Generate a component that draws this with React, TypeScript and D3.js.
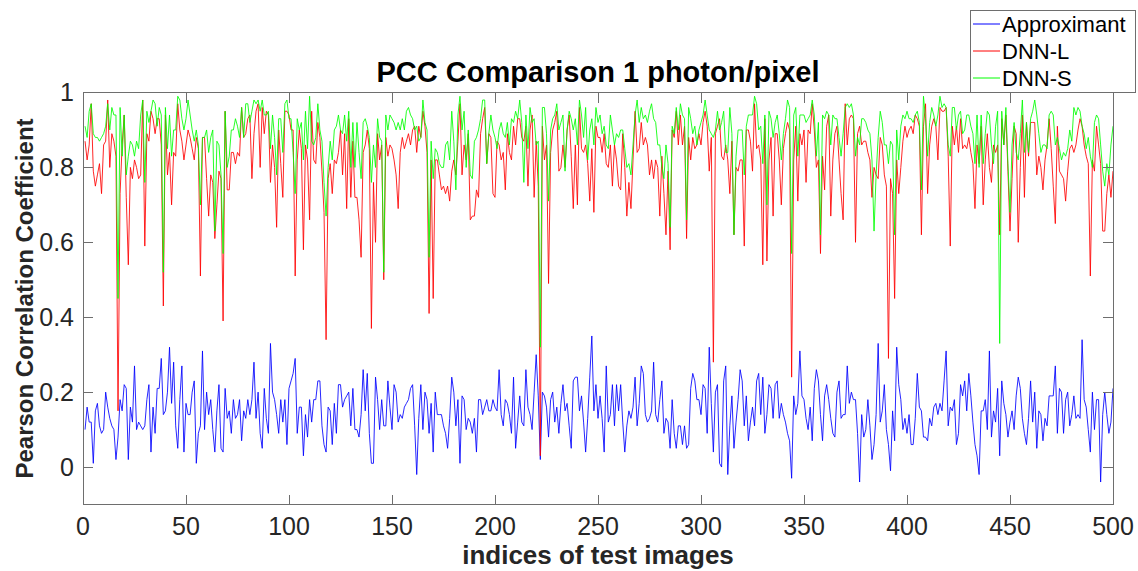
import React from "react";
import * as d3 from "d3";

const title = "PCC Comparison 1 photon/pixel";
const xLabel = "indices of test images";
const yLabel = "Pearson Correlation Coefficient";
const seriesNames = ["Approximant", "DNN-L", "DNN-S"];
const seriesColors = ["#0000ff", "#ff0000", "#00ff00"];
const xTicks = [0, 50, 100, 150, 200, 250, 300, 350, 400, 450, 500];
const yTicks = [0, 0.2, 0.4, 0.6, 0.8, 1];
const yTickLabels = ["0", "0.2", "0.4", "0.6", "0.8", "1"];

// Approximant (blue), test images 1..500
const approximant = [
  0.10, 0.16, 0.12, 0.12, 0.01, 0.15, 0.17, 0.11, 0.09, 0.10,
  0.20, 0.16, 0.13, 0.11, 0.10, 0.02, 0.08, 0.18, 0.15, 0.22,
  0.21, 0.02, 0.16, 0.12, 0.27, 0.10, 0.12, 0.11, 0.10, 0.11,
  0.18, 0.22, 0.04, 0.16, 0.09, 0.21, 0.21, 0.29, 0.14, 0.15,
  0.20, 0.32, 0.17, 0.28, 0.11, 0.05, 0.18, 0.27, 0.04, 0.17,
  0.14, 0.14, 0.20, 0.23, 0.01, 0.09, 0.11, 0.31, 0.10, 0.20,
  0.14, 0.18, 0.10, 0.04, 0.15, 0.22, 0.05, 0.04, 0.21, 0.13,
  0.15, 0.09, 0.18, 0.13, 0.14, 0.18, 0.07, 0.15, 0.13, 0.18,
  0.14, 0.18, 0.28, 0.13, 0.20, 0.09, 0.05, 0.21, 0.13, 0.09,
  0.33, 0.20, 0.18, 0.14, 0.09, 0.18, 0.12, 0.18, 0.06, 0.21,
  0.23, 0.25, 0.29, 0.09, 0.16, 0.16, 0.03, 0.14, 0.08, 0.18,
  0.12, 0.18, 0.18, 0.23, 0.23, 0.11, 0.06, 0.04, 0.16, 0.15,
  0.06, 0.17, 0.09, 0.22, 0.22, 0.16, 0.18, 0.19, 0.20, 0.11,
  0.21, 0.10, 0.10, 0.08, 0.14, 0.26, 0.15, 0.25, 0.09, 0.01,
  0.01, 0.24, 0.18, 0.10, 0.18, 0.11, 0.11, 0.23, 0.16, 0.10,
  0.22, 0.20, 0.12, 0.14, 0.13, 0.16, 0.17, 0.18, 0.21, 0.22,
  0.11, -0.02, 0.13, 0.22, 0.10, 0.20, 0.18, 0.09, 0.17, 0.04,
  0.20, 0.14, 0.14, 0.14, 0.11, 0.09, 0.05, 0.13, 0.24, 0.20,
  0.11, 0.18, 0.01, 0.19, 0.18, 0.10, 0.13, 0.12, 0.09, 0.13,
  0.04, 0.18, 0.18, 0.14, 0.16, 0.18, 0.15, 0.15, 0.18, 0.16,
  0.15, 0.26, 0.14, 0.11, 0.18, 0.17, 0.14, 0.09, 0.24, 0.05,
  0.12, 0.19, 0.12, 0.11, 0.26, 0.16, 0.14, 0.10, 0.20, 0.30,
  0.19, 0.02, 0.20, 0.19, 0.16, 0.08, 0.18, 0.20, 0.12, 0.16,
  0.09, 0.17, 0.22, 0.15, 0.17, 0.11, 0.05, 0.23, 0.24, 0.24,
  0.15, 0.19, 0.12, 0.04, 0.13, 0.24, 0.35, 0.15, 0.22, 0.13,
  0.19, 0.13, 0.04, 0.27, 0.12, 0.14, 0.22, 0.11, 0.22, 0.15,
  0.22, 0.12, 0.04, 0.11, 0.15, 0.13, 0.16, 0.24, 0.11, 0.17,
  0.27, 0.25, 0.14, 0.12, 0.13, 0.15, 0.28, 0.14, 0.12, 0.18,
  0.23, 0.09, 0.13, 0.12, 0.05, 0.18, 0.09, 0.05, 0.11, 0.11,
  0.06, 0.11, 0.05, 0.06, 0.21, 0.25, 0.23, 0.18, 0.18, 0.14,
  0.22, 0.21, 0.09, 0.32, 0.17, 0.04, 0.20, 0.22, 0.01, 0.00,
  0.23, 0.27, -0.02, 0.11, 0.19, 0.05, 0.12, 0.18, 0.26, 0.23,
  0.11, 0.19, 0.07, 0.12, 0.16, 0.11, 0.23, 0.25, 0.14, 0.24,
  0.09, 0.14, 0.22, 0.21, 0.13, 0.22, 0.23, 0.13, 0.17, 0.14,
  0.12, 0.09, 0.07, -0.03, 0.19, 0.14, 0.17, 0.31, 0.19, 0.18,
  0.13, 0.10, 0.16, 0.07, 0.21, 0.26, 0.23, 0.14, 0.07, 0.19,
  0.22, 0.18, 0.13, 0.09, 0.08, 0.20, 0.23, 0.13, 0.14, 0.14,
  0.27, 0.17, 0.20, 0.18, 0.18, 0.09, -0.04, 0.14, 0.08, 0.10,
  0.18, 0.11, 0.02, 0.06, 0.14, 0.33, 0.12, 0.15, 0.22, 0.10,
  0.06, -0.01, 0.15, 0.07, 0.32, 0.22, 0.18, 0.10, 0.13, 0.09,
  0.14, 0.06, 0.06, 0.13, 0.25, 0.16, 0.15, 0.08, 0.08, 0.07,
  0.13, 0.11, 0.16, 0.17, 0.14, 0.17, 0.15, 0.23, 0.31, 0.11,
  0.16, 0.15, 0.18, 0.06, 0.09, 0.22, 0.19, 0.23, 0.15, 0.25,
  0.19, 0.12, 0.06, 0.03, -0.02, 0.15, 0.15, 0.18, 0.10, 0.31,
  0.08, 0.15, 0.12, 0.21, 0.03, 0.23, 0.17, 0.14, 0.08, 0.12,
  0.15, 0.10, 0.19, 0.24, 0.21, 0.13, 0.09, 0.06, 0.13, 0.23,
  0.12, 0.20, 0.05, 0.15, 0.14, 0.07, 0.13, 0.11, 0.19, 0.19,
  0.19, 0.27, 0.09, 0.21, 0.20, 0.09, 0.18, 0.20, 0.11, 0.14,
  0.19, 0.13, 0.14, 0.13, 0.34, 0.18, 0.16, 0.10, 0.04, 0.20,
  0.10, 0.18, 0.18, -0.04, 0.14, 0.20, 0.14, 0.09, 0.12, 0.21,
];

// DNN-L (red)
const dnnL = [
  0.87, 0.82, 0.86, 0.97, 0.79, 0.75, 0.78, 0.81, 0.73, 0.86,
  0.87, 0.98, 0.80, 0.89, 0.87, 0.83, 0.15, 0.73, 0.86, 0.94,
  0.72, 0.54, 0.80, 0.77, 0.82, 0.80, 0.77, 0.78, 0.98, 0.59,
  0.89, 0.87, 0.95, 0.93, 0.89, 0.93, 0.93, 0.86, 0.43, 0.94,
  0.78, 0.84, 0.70, 0.84, 0.83, 0.97, 0.90, 0.87, 0.82, 0.86,
  0.90, 0.88, 0.85, 0.82, 0.88, 0.85, 0.51, 0.88, 0.88, 0.77,
  0.67, 0.78, 0.76, 0.61, 0.70, 0.79, 0.77, 0.39, 0.95, 0.74,
  0.74, 0.84, 0.84, 0.81, 0.84, 0.83, 0.96, 0.88, 0.89, 0.93,
  0.94, 0.77, 0.89, 0.95, 0.97, 0.80, 0.96, 0.89, 0.95, 0.94,
  0.76, 0.86, 0.80, 0.64, 0.90, 0.81, 0.72, 0.95, 0.95, 0.94,
  0.90, 0.90, 0.51, 0.82, 0.90, 0.85, 0.58, 0.86, 0.82, 0.66,
  0.95, 0.82, 0.81, 0.92, 0.88, 0.79, 0.68, 0.34, 0.77, 0.81,
  0.73, 0.82, 0.81, 0.84, 0.90, 0.78, 0.89, 0.69, 0.93, 0.72,
  0.87, 0.72, 0.72, 0.66, 0.56, 0.84, 0.86, 0.90, 0.85, 0.37,
  0.76, 0.60, 0.89, 0.82, 0.86, 0.50, 0.88, 0.83, 0.86, 0.85,
  0.82, 0.78, 0.69, 0.84, 0.88, 0.85, 0.87, 0.89, 0.86, 0.90,
  0.91, 0.84, 0.91, 0.88, 0.95, 0.91, 0.84, 0.41, 0.82, 0.45,
  0.82, 0.82, 0.78, 0.74, 0.75, 0.73, 0.75, 0.71, 0.79, 0.82,
  0.78, 0.87, 0.97, 0.78, 0.86, 0.82, 0.89, 0.66, 0.67, 0.67,
  0.74, 0.72, 0.89, 0.93, 0.96, 0.81, 0.89, 0.88, 0.73, 0.72,
  0.87, 0.86, 0.82, 0.84, 0.74, 0.89, 0.84, 0.82, 0.91, 0.86,
  0.93, 0.93, 0.88, 0.87, 0.91, 0.75, 0.90, 0.94, 0.72, 0.87,
  0.75, 0.03, 0.91, 0.82, 0.86, 0.49, 0.84, 0.90, 0.92, 0.95,
  0.79, 0.80, 0.86, 0.80, 0.90, 0.94, 0.83, 0.69, 0.86, 0.70,
  0.96, 0.85, 0.84, 0.86, 0.81, 0.71, 0.85, 0.68, 0.91, 0.88,
  0.88, 0.84, 0.89, 0.81, 0.80, 0.86, 0.75, 0.86, 0.82, 0.75,
  0.74, 0.89, 0.80, 0.67, 0.76, 0.69, 0.82, 0.95, 0.84, 0.85,
  0.92, 0.86, 0.88, 0.86, 0.78, 0.82, 0.77, 0.82, 0.80, 0.67,
  0.83, 0.73, 0.62, 0.79, 0.58, 0.90, 0.88, 0.95, 0.86, 0.94,
  0.86, 0.91, 0.61, 0.88, 0.82, 0.88, 0.85, 0.86, 0.89, 0.86,
  0.92, 0.95, 0.91, 0.79, 0.88, 0.28, 0.89, 0.91, 0.93, 0.83,
  0.82, 0.86, 0.82, 0.73, 0.87, 0.62, 0.80, 0.79, 0.82, 0.82,
  0.59, 0.90, 0.90, 0.87, 0.79, 0.97, 0.85, 0.86, 0.82, 0.54,
  0.93, 0.55, 0.82, 0.88, 0.67, 0.89, 0.89, 0.82, 0.70, 0.85,
  0.89, 0.92, 0.90, 0.24, 0.82, 0.91, 0.71, 0.89, 0.86, 0.90,
  0.76, 0.90, 0.89, 0.97, 0.90, 0.80, 0.82, 0.57, 0.83, 0.74,
  0.91, 0.94, 0.67, 0.82, 0.89, 0.91, 0.82, 0.73, 0.66, 0.97,
  0.86, 0.93, 0.94, 0.93, 0.60, 0.89, 0.91, 0.86, 0.87, 0.87,
  0.84, 0.82, 0.72, 0.80, 0.78, 0.77, 0.88, 0.86, 0.78, 0.75,
  0.29, 0.77, 0.73, 0.45, 0.82, 0.73, 0.80, 0.87, 0.91, 0.88,
  0.90, 0.91, 0.89, 0.94, 0.93, 0.91, 0.62, 0.91, 0.97, 0.73,
  0.86, 0.91, 0.93, 0.91, 0.82, 0.96, 0.95, 0.95, 0.96, 0.83,
  0.59, 0.91, 0.86, 0.91, 0.84, 0.93, 0.85, 0.86, 0.85, 0.88,
  0.84, 0.81, 0.69, 0.86, 0.81, 0.91, 0.70, 0.82, 0.89, 0.80,
  0.76, 0.86, 0.84, 0.86, 0.62, 0.93, 0.86, 0.94, 0.79, 0.63,
  0.77, 0.91, 0.89, 0.60, 0.80, 0.94, 0.72, 0.92, 0.83, 0.92,
  0.92, 0.92, 0.78, 0.83, 0.80, 0.74, 0.82, 0.86, 0.93, 0.85,
  0.75, 0.65, 0.91, 0.79, 0.78, 0.77, 0.71, 0.79, 0.85, 0.86,
  0.84, 0.86, 0.90, 0.93, 0.91, 0.86, 0.83, 0.81, 0.51, 0.82,
  0.79, 0.91, 0.86, 0.81, 0.63, 0.63, 0.73, 0.78, 0.72, 0.79,
];

// DNN-S (green)
const dnnS = [
  0.91, 0.88, 0.95, 0.97, 0.89, 0.88, 0.88, 0.87, 0.88, 0.89,
  0.91, 0.97, 0.90, 0.96, 0.94, 0.94, 0.45, 0.96, 0.83, 0.94,
  0.78, 0.83, 0.87, 0.86, 0.83, 0.87, 0.85, 0.94, 0.98, 0.76,
  0.95, 0.92, 0.95, 0.98, 0.97, 0.91, 0.96, 0.94, 0.52, 0.96,
  0.85, 0.94, 0.83, 0.90, 0.90, 0.99, 0.98, 0.93, 0.90, 0.93,
  0.98, 0.94, 0.90, 0.87, 0.90, 0.86, 0.70, 0.88, 0.88, 0.90,
  0.84, 0.88, 0.90, 0.63, 0.87, 0.86, 0.78, 0.57, 0.95, 0.80,
  0.83, 0.90, 0.90, 0.93, 0.91, 0.88, 0.96, 0.88, 0.97, 0.97,
  0.92, 0.95, 0.98, 0.97, 0.98, 0.95, 0.98, 0.94, 0.94, 0.95,
  0.85, 0.94, 0.88, 0.78, 0.93, 0.93, 0.84, 0.97, 0.98, 0.93,
  0.93, 0.84, 0.73, 0.93, 0.90, 0.92, 0.82, 0.95, 0.85, 0.99,
  0.87, 0.86, 0.88, 0.97, 0.90, 0.87, 0.76, 0.67, 0.80, 0.87,
  0.82, 0.90, 0.91, 0.94, 0.90, 0.89, 0.94, 0.87, 0.95, 0.80,
  0.92, 0.80, 0.92, 0.84, 0.77, 0.92, 0.93, 0.91, 0.88, 0.76,
  0.86, 0.80, 0.93, 0.88, 0.87, 0.52, 0.94, 0.90, 0.94, 0.93,
  0.92, 0.90, 0.92, 0.90, 0.93, 0.90, 0.95, 0.96, 0.94, 0.93,
  0.90, 0.91, 0.87, 0.88, 0.98, 0.92, 0.90, 0.56, 0.87, 0.77,
  0.85, 0.84, 0.81, 0.80, 0.80, 0.86, 0.87, 0.82, 0.95, 0.87,
  0.74, 0.94, 0.99, 0.90, 0.95, 0.80, 0.90, 0.78, 0.77, 0.87,
  0.88, 0.90, 0.93, 0.98, 0.98, 0.81, 0.89, 0.94, 0.90, 0.88,
  0.85, 0.90, 0.92, 0.89, 0.88, 0.92, 0.86, 0.93, 0.92, 0.95,
  0.93, 0.98, 0.92, 0.76, 0.94, 0.85, 0.96, 0.92, 0.93, 0.86,
  0.87, 0.32, 0.96, 0.96, 0.89, 0.71, 0.90, 0.93, 0.94, 0.97,
  0.90, 0.92, 0.94, 0.79, 0.90, 0.95, 0.93, 0.90, 0.93, 0.86,
  0.98, 0.94, 0.88, 0.96, 0.82, 0.90, 0.93, 0.86, 0.96, 0.92,
  0.94, 0.89, 0.91, 0.86, 0.85, 0.94, 0.90, 0.86, 0.89, 0.88,
  0.90, 0.90, 0.85, 0.80, 0.81, 0.78, 0.86, 0.94, 0.98, 0.92,
  0.96, 0.93, 0.94, 0.92, 0.95, 0.97, 0.93, 0.92, 0.86, 0.86,
  0.80, 0.77, 0.86, 0.81, 0.64, 0.91, 0.89, 0.96, 0.90, 0.97,
  0.94, 0.93, 0.66, 0.96, 0.93, 0.89, 0.91, 0.86, 0.90, 0.92,
  0.94, 0.98, 0.94, 0.90, 0.89, 0.88, 0.90, 0.95, 0.90, 0.92,
  0.95, 0.84, 0.84, 0.96, 0.89, 0.62, 0.83, 0.90, 0.90, 0.90,
  0.78, 0.91, 0.94, 0.94, 0.94, 0.99, 0.97, 0.90, 0.91, 0.81,
  0.94, 0.70, 0.95, 0.93, 0.88, 0.92, 0.94, 0.89, 0.82, 0.89,
  0.93, 0.98, 0.96, 0.57, 0.94, 0.96, 0.83, 0.94, 0.94, 0.94,
  0.92, 0.93, 0.94, 0.98, 0.94, 0.83, 0.92, 0.62, 0.94, 0.93,
  0.95, 0.94, 0.86, 0.94, 0.93, 0.93, 0.88, 0.83, 0.89, 0.96,
  0.97, 0.96, 0.97, 0.94, 0.83, 0.88, 0.86, 0.93, 0.93, 0.92,
  0.90, 0.89, 0.82, 0.63, 0.78, 0.88, 0.95, 0.92, 0.86, 0.86,
  0.81, 0.87, 0.86, 0.62, 0.90, 0.82, 0.91, 0.94, 0.93, 0.95,
  0.93, 0.93, 0.92, 0.94, 0.95, 0.92, 0.74, 0.99, 0.93, 0.83,
  0.92, 0.96, 0.94, 0.91, 0.94, 0.99, 0.96, 0.97, 0.96, 0.86,
  0.83, 0.96, 0.96, 0.90, 0.94, 0.95, 0.89, 0.90, 0.94, 0.94,
  0.91, 0.89, 0.81, 0.94, 0.80, 0.94, 0.81, 0.89, 0.95, 0.94,
  0.86, 0.81, 0.91, 0.95, 0.33, 0.95, 0.86, 0.96, 0.81, 0.68,
  0.86, 0.92, 0.84, 0.82, 0.89, 0.98, 0.84, 0.92, 0.84, 0.93,
  0.95, 0.98, 0.94, 0.89, 0.84, 0.86, 0.86, 0.85, 0.94, 0.95,
  0.94, 0.86, 0.88, 0.85, 0.82, 0.84, 0.83, 0.85, 0.90, 0.87,
  0.96, 0.94, 0.96, 0.95, 0.91, 0.89, 0.85, 0.88, 0.83, 0.80,
  0.92, 0.94, 0.93, 0.86, 0.79, 0.75, 0.81, 0.78, 0.86, 0.91,
];

const W = 1138;
const H = 571;
const plot = { left: 83, right: 1113, top: 92.5, bottom: 504.5 };
const FONT = "Liberation Sans, Arial, Helvetica, sans-serif";

export default function App() {
  const x = d3.scaleLinear().domain([0, 500]).range([plot.left, plot.right]);
  const y = d3.scaleLinear().domain([-0.1, 1]).range([plot.bottom, plot.top]);
  const series = [approximant, dnnL, dnnS];
  const line = d3
    .line<number>()
    .x((_, i) => x(i + 1))
    .y((d) => y(d));
  const tickLen = 10;
  const axisColor = "#6e6e6e";
  const textColor = "#262626";

  return (
    <svg
      width={W}
      height={H}
      style={{ position: "absolute", left: 0, top: 0, background: "#fff" }}
      fontFamily={FONT}
    >
      <rect x={0} y={0} width={W} height={H} fill="#fff" />
      <defs>
        <clipPath id="plotClip">
          <rect x={plot.left} y={plot.top} width={plot.right - plot.left} height={plot.bottom - plot.top} />
        </clipPath>
      </defs>

      {/* series */}
      <g clipPath="url(#plotClip)">
        {series.map((s, k) => (
          <path key={k} d={line(s) || ""} fill="none" stroke={seriesColors[k]} strokeWidth={1} strokeOpacity={0.85} strokeLinejoin="round" />
        ))}
      </g>

      {/* axes box */}
      <rect
        x={plot.left}
        y={plot.top}
        width={plot.right - plot.left}
        height={plot.bottom - plot.top}
        fill="none"
        stroke={axisColor}
        strokeWidth={1}
        shapeRendering="crispEdges"
      />
      {/* x ticks */}
      {xTicks.map((t) => (
        <g key={"xt" + t} shapeRendering="crispEdges">
          <line x1={x(t)} x2={x(t)} y1={plot.bottom} y2={plot.bottom - tickLen} stroke={axisColor} />
          <line x1={x(t)} x2={x(t)} y1={plot.top} y2={plot.top + tickLen} stroke={axisColor} />
          <text x={x(t)} y={535} textAnchor="middle" fontSize={25} fill={textColor}>
            {t}
          </text>
        </g>
      ))}
      {/* y ticks */}
      {yTicks.map((t, i) => (
        <g key={"yt" + t} shapeRendering="crispEdges">
          <line x1={plot.left} x2={plot.left + tickLen} y1={y(t)} y2={y(t)} stroke={axisColor} />
          <line x1={plot.right} x2={plot.right - tickLen} y1={y(t)} y2={y(t)} stroke={axisColor} />
          <text x={74} y={y(t)} dy="0.35em" textAnchor="end" fontSize={25} fill={textColor}>
            {yTickLabels[i]}
          </text>
        </g>
      ))}

      {/* title */}
      <text x={(plot.left + plot.right) / 2} y={82} textAnchor="middle" fontSize={29} fontWeight="bold" fill="#000">
        {title}
      </text>
      {/* x label */}
      <text x={(plot.left + plot.right) / 2} y={564} textAnchor="middle" fontSize={26} fontWeight="bold" fill={textColor}>
        {xLabel}
      </text>
      {/* y label */}
      <text
        transform={`translate(33, ${(plot.top + plot.bottom) / 2}) rotate(-90)`}
        textAnchor="middle"
        fontSize={24}
        fontWeight="bold"
        fill={textColor}
      >
        {yLabel}
      </text>

      {/* legend */}
      <g>
        <rect x={970.5} y={10.5} width={165} height={82} fill="#fff" stroke={axisColor} strokeWidth={1} shapeRendering="crispEdges" />
        {seriesNames.map((n, k) => (
          <g key={n}>
            <line x1={973} x2={1000} y1={24 + k * 27} y2={24 + k * 27} stroke={seriesColors[k]} strokeWidth={1} />
            <text x={1002} y={24 + k * 27} dy="0.36em" fontSize={22} fill="#000">
              {n}
            </text>
          </g>
        ))}
      </g>
    </svg>
  );
}
